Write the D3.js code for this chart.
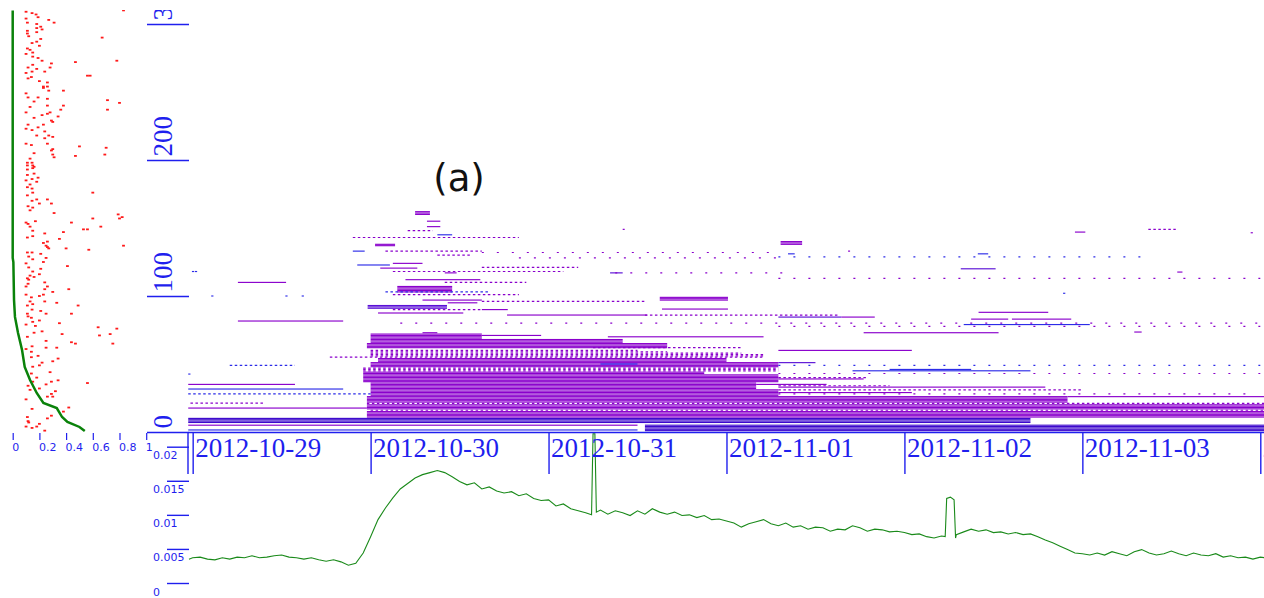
<!DOCTYPE html>
<html>
<head>
<meta charset="utf-8">
<script src="https://cdn.jsdelivr.net/npm/d3@7"></script>
<style>
  html, body { margin: 0; padding: 0; background: #fff; }
  svg { display: block; }
</style>
</head>
<body>
<svg id="chart" width="1264" height="598"></svg>
<script>
// ---- tick labels ----
const dayTicks = ["2012-10-29", "2012-10-30", "2012-10-31", "2012-11-01", "2012-11-02", "2012-11-03", "2012-11-04"];
const rowTicks = [0, 100, 200, 300];
const shareTicks = [0, 0.2, 0.4, 0.6, 0.8, 1];
const rateTicks = [0, 0.005, 0.01, 0.015, 0.02];

// ---- main panel: activity per row, times in hours since 2012-10-29 00:00 ----
// blocks of consecutive rows active over the same span: [rowFrom, rowTo, hStart, hEnd, kind]
const blocks = [
  [7, 10, -0.6, 113, 3],
  [1, 5, 61, 144.6, 3],
  [11, 15, 23.5, 144.6, 0],
  [17, 20, 23.5, 144.6, 0],
  [22, 26, 23.5, 118, 0],
  [27, 31, 24, 79, 0],
  [32, 36, 24, 76, 0],
  [37, 42, 23, 79, 0],
  [43, 44, 23, 69, 0],
  [48, 51, 24, 79, 0],
  [52, 54, 25, 72, 0],
  [62, 65, 23.5, 64, 0],
  [66, 68, 24, 58, 0],
  [69, 72, 24, 39, 0],
  [91, 93, 23.6, 34.3, 1],
  [97, 99, 63, 72.2, 0],
  [103, 107, 27.6, 35, 0],
  [137, 138, 24.6, 27.3, 0],
  [138, 140, 79.3, 82.2, 0],
  [160, 162, 30, 32, 0]
];

// single rows: [row, hStart, hEnd, kind]
const segments = [
  [5, -0.6, 60, 0],
  [1.5, -0.6, 60, 2],
  [17.6, -0.6, 23.5, 0],
  [26, 118, 144.6, 0],
  [31.6, -0.6, 20.3, 2],
  [35, -0.6, 13.8, 0],
  [29, 79, 97, 0],
  [33, 79, 115, 0],
  [35, 76, 85.5, 0],
  [39, 79, 90.5, 0],
  [45, 89, 113, 2],
  [46, 94, 105, 2],
  [50, 55, 60, 2],
  [51, 79, 84, 1],
  [60, 79, 97, 0],
  [70, 56, 77, 0],
  [71, 39, 47, 0],
  [73, 31, 33, 0],
  [73, 90.5, 108.7, 0],
  [73.5, 127, 128, 0],
  [79, 104, 121, 2],
  [81.6, 6.1, 20.3, 0],
  [83, 105, 110, 0],
  [83, 110.5, 118.5, 0],
  [84.5, 79, 87.5, 1],
  [84.5, 87.5, 92, 0],
  [86, 42.4, 61.3, 0],
  [87.5, 25, 36.5, 0],
  [88, 106, 115.4, 0],
  [90, 39, 42.5, 0],
  [90.4, 63.3, 72.2, 0],
  [95, 34.4, 38.4, 0],
  [97, 31, 39, 0],
  [110, 6.1, 12.6, 0],
  [112, 28.7, 38.8, 0],
  [117, 34, 35.6, 0],
  [117, 56.3, 58, 1],
  [117.6, 132.8, 133.5, 0],
  [120, 103.6, 108.3, 1],
  [120.5, 25.3, 30.3, 0],
  [122.8, 22.2, 26.6, 2],
  [124, 27, 31, 0],
  [131, 80.3, 81.2, 2],
  [131, 105.9, 107.3, 2],
  [133, 21.6, 23.2, 2],
  [145, 33, 35, 2],
  [147, 119, 120.4, 0],
  [151, 31.6, 33.4, 0],
  [155, 31.6, 33.4, 0],
  [100, 2.5, 2.8, 2],
  [100, 12.5, 12.8, 2],
  [100, 14.7, 15, 2],
  [118, -0.1, 0.2, 2],
  [118, 0.3, 0.6, 2],
  [42.6, -0.6, -0.3, 2],
  [146.5, 142.7, 143, 0],
  [102, 117.4, 117.7, 2]
];

// broken rows, many short pieces close together: [row, hStart, hEnd, kind]
const denseDots = [
  [16, 24, 144.6, 0],
  [21, 23.5, 144.6, 0],
  [21.3, -0.3, 9.5, 0],
  [28, -0.6, 24, 2],
  [31, 79, 120, 0],
  [34, 79, 94, 0],
  [40, 79, 91, 0],
  [45, 23, 79, 0],
  [46, 23, 79, 0],
  [47, 23, 79, 0],
  [49, 5, 13.8, 2],
  [55, 18.5, 77, 0],
  [56, 24, 77, 0],
  [57, 24, 77, 0],
  [58, 24, 74, 0],
  [59, 24, 64, 0],
  [60, 24, 60, 0],
  [62, 54, 74, 0],
  [86, 61, 87, 0],
  [90, 27, 39, 0],
  [96, 39, 61, 0],
  [101, 27, 44, 0],
  [103, 26, 40, 2],
  [110, 34, 45, 0],
  [118, 27, 50, 0],
  [121, 39, 52, 0],
  [130, 33, 37.5, 0],
  [133, 26, 39, 0],
  [143, 21.6, 44, 0],
  [148, 29, 32.4, 0],
  [149, 128.9, 132.6, 0]
];

// broken rows with wide gaps: [row, hStart, hEnd, kind]
const sparseDots = [
  [28, 79, 142, 0],
  [43, 79, 144, 0],
  [49, 79, 144, 2],
  [77.7, 79, 144, 0],
  [80, 28, 144, 0],
  [113, 79, 144, 0],
  [117, 57, 80, 0],
  [128, 44, 80, 0],
  [128.7, 79, 128, 2],
  [132, 39, 79, 0],
  [133, 88.4, 89.7, 0],
  [149, 58, 60, 0]
];

// ---- left panel: [row, value] ----
const shareCurve = [
  [310, 0], [128, 0], [125, 0.005], [97, 0.01], [84.6, 0.017], [72.8, 0.04],
  [60.3, 0.07], [47.8, 0.09], [38.2, 0.13], [28.7, 0.18], [21.3, 0.23],
  [17.6, 0.33], [11, 0.37], [7.4, 0.41], [3.7, 0.5], [0.7, 0.54]
];

const redDots = [
  [309,0.10],[308,0.145],[307,0.175],[305,0.19],[310,0.83],[304,0.10],[303,0.27],[301,0.31],
  [300,0.18],[298,0.21],[301,0.11],[297,0.18],[296,0.22],[295,0.11],[294,0.18],[293,0.11],
  [291,0.12],[290,0.67],[289,0.21],[286,0.145],[287,0.18],[282,0.11],[281,0.13],[279,0.15],
  [284,0.20],[278,0.10],[276,0.15],[275,0.19],[273,0.22],[272,0.47],[273,0.78],[271,0.29],
  [270,0.15],[268,0.28],[268,0.115],[267,0.18],[265,0.145],[265,0.24],[264,0.10],[262,0.58],
  [262,0.56],[261,0.14],[260,0.115],[258,0.20],[257,0.26],[254,0.23],[254,0.26],[253,0.23],
  [251,0.27],[251,0.38],[249,0.10],[246,0.115],[246,0.19],[245,0.26],[244,0.71],[243,0.16],
  [242,0.80],[240,0.38],[240,0.26],[239,0.13],[237,0.71],[237,0.36],[235,0.28],[235,0.10],
  [234,0.26],[233,0.22],[232,0.34],[231,0.16],[229,0.29],[228,0.30],[226,0.23],[226,0.115],
  [224,0.19],[223,0.10],[222,0.145],[221,0.24],[218,0.18],[218,0.27],[217,0.30],[216,0.24],
  [212,0.10],[211,0.14],[210,0.50],[209,0.70],[212,0.26],[208,0.30],
  [205,0.16],[207,0.29],[204,0.30],[203,0.47],[204,0.69],[202,0.31],[201,0.13],[198,0.11],
  [198,0.145],[196,0.11],[196,0.15],[195,0.16],[194,0.15],[193,0.11],[190,0.16],[189,0.11],
  [187,0.19],[186,0.145],[185,0.10],[184,0.18],[182,0.13],[180,0.11],[179,0.145],[176,0.15],
  [176,0.60],[174,0.11],[171,0.26],[170,0.145],[168,0.20],[168,0.29],[171,0.18],[166,0.115],
  [165,0.15],[163,0.13],[161,0.31],[160,0.79],[158,0.82],[157,0.80],[157,0.60],[155,0.17],
  [154,0.44],[154,0.10],[153,0.115],[151,0.66],[151,0.13],[149,0.53],[149,0.56],[148,0.15],
  [147,0.38],[146,0.24],[143,0.11],[144,0.15],[142,0.35],[140,0.26],[139,0.23],[136,0.26],
  [135,0.27],[135,0.40],[134,0.57],[137,0.25],[137,0.83],[132,0.11],[132,0.145],[129,0.12],
  [131,0.21],[127,0.15],[128,0.25],[125,0.23],[124,0.10],[121,0.12],[122,0.41],[120,0.21],
  [118,0.15],[116,0.20],[115,0.13],[113,0.11],[112,0.12],[114,0.16],[110,0.24],[109,0.115],
  [107,0.26],[107,0.10],[105,0.42],[105,0.24],[103,0.30],[100,0.20],[101,0.10],[101,0.23],
  [99,0.14],
  [96,0.13],[96,0.24],[95,0.33],[93,0.11],[94,0.15],[93,0.49],[90,0.145],[89,0.21],
  [87,0.11],[87,0.25],[87,0.44],[85,0.115],[84,0.14],[82,0.20],[81,0.15],[80,0.35],
  [79,0.10],[78,0.17],[77,0.64],[76,0.78],[74,0.22],[73,0.16],[72,0.37],[72,0.73],
  [71,0.65],[70,0.11],[67,0.25],[66,0.44],[65,0.47],[63,0.145],[65,0.75],[61,0.10],
  [62,0.25],[62,0.33],[59,0.14],[56,0.19],[55,0.14],[51,0.22],[52,0.30],[54,0.34],
  [49,0.20],[48,0.15],[44,0.28],[43,0.14],[40,0.18],[36,0.56],[38,0.34],[37,0.29],
  [37,0.15],[34,0.115],[35,0.25],[31,0.13],[30,0.32],[32,0.20],[28,0.29],[26,0.30],
  [26,0.26],[24,0.10],[18,0.42],[17,0.145],[12,0.29],[15,0.38],[11,0.11],[8,0.115],
  [6,0.20],[4,0.18],[4,0.10],[3,0.145],[1,0.24],[7,0.12],[10,0.26]
];

// ---- bottom panel: [hour, rate] ----
const rateSeries = [
  [-0.5,0.0035],[0,0.0037],[1,0.0038],[2,0.0035],[3,0.0034],[4,0.0037],[5,0.0035],[6,0.0038],
  [7,0.0037],[8,0.0040],[9,0.0037],[10,0.0038],[11,0.0040],[12,0.0041],[13,0.0038],[14,0.0037],
  [15,0.0035],[16,0.0037],[17,0.0034],[18,0.0032],[19,0.0034],[20,0.0031],[21,0.0026],[22,0.0029],
  [23,0.0044],[24,0.0068],[25,0.0093],[26,0.0110],[27,0.0125],[28,0.0138],[29,0.0146],[30,0.0154],
  [31,0.0159],[32,0.0162],[33,0.0165],[34,0.0162],[35,0.0156],[36,0.0149],[37,0.0144],[38,0.0147],
  [39,0.0138],[40,0.0141],[41,0.0135],[42,0.0132],[43,0.0134],[44,0.0128],[45,0.0131],[46,0.0124],
  [47,0.0121],[48,0.0122],[49,0.0113],[50,0.0116],[51,0.0109],[52,0.0106],[53,0.0103],[53.8,0.0100],
  [54,0.0219],[54.25,0.0219],[54.45,0.0104],[55,0.0107],[56,0.0101],[57,0.0106],[58,0.0103],[59,0.0099],
  [60,0.0106],[61,0.0101],[62,0.0109],[63,0.0104],[64,0.0101],[65,0.0104],[66,0.0099],[67,0.0100],
  [68,0.0096],[69,0.0099],[70,0.0093],[71,0.0094],[72,0.0091],[73,0.0088],[74,0.0082],[75,0.0087],
  [76,0.0090],[77,0.0093],[78,0.0087],[79,0.0084],[80,0.0088],[81,0.0082],[82,0.0084],[83,0.0079],
  [84,0.0082],[85,0.0081],[86,0.0076],[87,0.0079],[88,0.0078],[89,0.0084],[90,0.0081],[91,0.0076],
  [92,0.0079],[93,0.0078],[94,0.0075],[95,0.0076],[96,0.0074],[97,0.0071],[98,0.0072],[99,0.0068],
  [100,0.0066],[101,0.0069],[101.5,0.0068],[101.7,0.0124],[102.2,0.0126],[102.7,0.0122],[102.9,0.0066],[103,0.0071],
  [104,0.0075],[105,0.0079],[106,0.0076],[107,0.0078],[108,0.0074],[109,0.0075],[110,0.0072],[111,0.0074],
  [112,0.0071],[113,0.0072],[114,0.0068],[115,0.0063],[116,0.0059],[117,0.0054],[118,0.0049],[119,0.0044],
  [120,0.0043],[121,0.0041],[122,0.0044],[123,0.0041],[124,0.0046],[125,0.0043],[126,0.0040],[127,0.0046],
  [128,0.0049],[129,0.0044],[130,0.0041],[131,0.0043],[132,0.0047],[133,0.0043],[134,0.0040],[135,0.0044],
  [136,0.0041],[137,0.0040],[138,0.0043],[139,0.0038],[140,0.0040],[141,0.0037],[142,0.0038],[143,0.0035],
  [144,0.0038],[144.6,0.0037]
];

// ---- setup ----
const t0 = Date.UTC(2012, 9, 29);
const at = h => new Date(t0 + h * 3600 * 1000);
const parseDay = d3.utcParse('%Y-%m-%d');

const blue = '#1f1fee';
const kindColor = d3.scaleOrdinal()
  .domain([0, 1, 2, 3])
  .range(['#8a00cc', '#5a10d6', '#2c2ce8', '#3c08cc']);

const svg = d3.select('#chart');

const x = d3.scaleUtc().domain([at(-0.63), at(144.5)]).range([188, 1264]);
const y = d3.scaleLinear().domain([0, 300]).range([432, 24]);
const share = d3.scaleLinear().domain([0, 1]).range([12.7, 146.2]);
const rateY = d3.scaleLinear().domain([0, 0.02]).range([583, 446.7]);

// clip everything above the time axis at the top edge of the plot
svg.append('defs').append('clipPath').attr('id', 'top-clip')
  .append('rect').attr('x', 0).attr('y', 10).attr('width', 1264).attr('height', 425);

// ---- main panel marks ----
const main = svg.append('g').attr('clip-path', 'url(#top-clip)');
const rowH = 1.15;

const rowSpans = blocks
  .flatMap(([r0, r1, h0, h1, k]) => d3.range(r0, r1 + 1).map(r => [r, h0, h1, k]))
  .concat(segments);

main.append('g')
  .selectAll('rect')
  .data(rowSpans)
  .join('rect')
  .attr('x', d => x(at(d[1])))
  .attr('y', d => y(d[0]) - rowH / 2)
  .attr('width', d => Math.max(1.5, x(at(d[2])) - x(at(d[1]))))
  .attr('height', rowH)
  .attr('fill', d => kindColor(d[3]));

const drawDots = (data, dash) => {
  main.append('g')
    .selectAll('line')
    .data(data)
    .join('line')
    .attr('x1', d => x(at(d[1])))
    .attr('x2', d => x(at(d[2])))
    .attr('y1', d => y(d[0]))
    .attr('y2', d => y(d[0]))
    .attr('stroke', d => kindColor(d[3]))
    .attr('stroke-width', 1.2)
    .attr('stroke-dasharray', dash);
};
drawDots(denseDots, '2.5,2.5');
drawDots(sparseDots, '2,13');

// ---- left panel ----
const left = svg.append('g').attr('clip-path', 'url(#top-clip)');

left.append('g')
  .selectAll('rect')
  .data(redDots)
  .join('rect')
  .attr('x', d => share(d[1]) - 1.4)
  .attr('y', d => y(d[0]) - 0.9)
  .attr('width', 2.8)
  .attr('height', 1.8)
  .attr('fill', '#ff1a1a');

left.append('path')
  .datum(shareCurve)
  .attr('fill', 'none')
  .attr('stroke', '#0a820a')
  .attr('stroke-width', 2.5)
  .attr('d', d3.line().x(d => share(d[1])).y(d => y(d[0])));

// ---- bottom panel ----
svg.append('path')
  .datum(rateSeries)
  .attr('fill', 'none')
  .attr('stroke', '#1a8a1a')
  .attr('stroke-width', 1.1)
  .attr('d', d3.line().x(d => x(at(d[0]))).y(d => rateY(d[1])));

// ---- axes ----
const styleAxis = g => {
  g.select('.domain').remove();
  g.selectAll('line').attr('stroke', blue).attr('stroke-width', 1.4);
  g.selectAll('text').attr('fill', blue);
};

// time axis
const xAxis = svg.append('g')
  .attr('transform', 'translate(0,432)')
  .call(d3.axisBottom(x)
    .tickValues(dayTicks.map(parseDay))
    .tickSize(42)
    .tickSizeOuter(0)
    .tickFormat(d3.utcFormat('%Y-%m-%d')));
xAxis.select('.domain').attr('stroke', blue).attr('stroke-width', 1.6);
xAxis.selectAll('line').attr('stroke', blue).attr('stroke-width', 1.4);
xAxis.selectAll('text')
  .attr('fill', blue)
  .attr('x', 2)
  .attr('y', 25)
  .attr('dy', null)
  .attr('text-anchor', 'start')
  .style('font-family', '"Liberation Serif", "Times New Roman", serif')
  .style('font-size', '27px');
xAxis.append('line')
  .attr('x1', x.range()[0]).attr('x2', x.range()[0])
  .attr('y1', 0).attr('y2', 42)
  .attr('stroke', blue).attr('stroke-width', 1.4);

// row axis (wrapped so the clip rect stays in page coordinates)
const yAxis = svg.append('g')
  .attr('clip-path', 'url(#top-clip)')
  .append('g')
  .attr('transform', 'translate(189,0)')
  .call(d3.axisLeft(y).tickValues(rowTicks).tickSize(42));
styleAxis(yAxis);
yAxis.selectAll('text')
  .attr('x', null)
  .attr('dy', null)
  .attr('text-anchor', 'start')
  .attr('transform', 'translate(-17,-4) rotate(-90)')
  .style('font-family', '"Liberation Serif", "Times New Roman", serif')
  .style('font-size', '27px');

// share axis
const shareAxis = svg.append('g')
  .attr('transform', 'translate(0,433)')
  .call(d3.axisBottom(share).tickValues(shareTicks).tickSize(7).tickFormat(d3.format('')));
styleAxis(shareAxis);
shareAxis.selectAll('line').attr('stroke-width', 1.2);
shareAxis.selectAll('text')
  .attr('x', -1)
  .attr('y', 18)
  .attr('dy', null)
  .attr('text-anchor', 'start')
  .style('font-family', '"DejaVu Sans", sans-serif')
  .style('font-size', '11px');

// rate axis
const rateAxis = svg.append('g')
  .attr('transform', 'translate(189,0)')
  .call(d3.axisLeft(rateY).tickValues(rateTicks).tickSize(22).tickFormat(d3.format('')));
styleAxis(rateAxis);
rateAxis.selectAll('text')
  .attr('x', -36)
  .attr('dy', null)
  .attr('y', 12)
  .attr('text-anchor', 'start')
  .style('font-family', '"DejaVu Sans", sans-serif')
  .style('font-size', '11px');

// ---- label ----
svg.append('text')
  .attr('x', 459)
  .attr('y', 191)
  .attr('text-anchor', 'middle')
  .style('font-family', '"DejaVu Sans", sans-serif')
  .style('font-size', '37px')
  .attr('fill', '#111')
  .text('(a)');
</script>
</body>
</html>
